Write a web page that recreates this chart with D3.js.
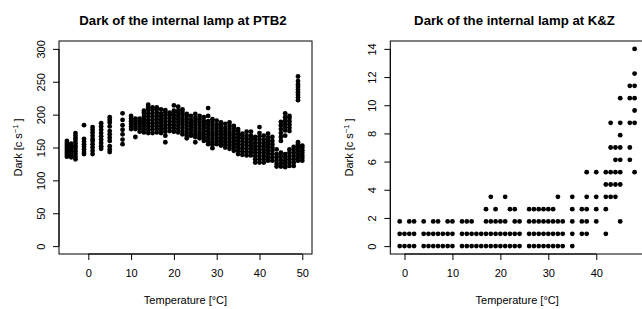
<!DOCTYPE html>
<html><head><meta charset="utf-8">
<script src="https://cdn.jsdelivr.net/npm/d3@7"></script>
<style>body{margin:0;background:#fff}svg{display:block}text{font-family:"Liberation Sans",Arial,sans-serif;fill:#000}</style>
</head><body><svg id="c" width="642" height="309"></svg>
<script>
// ---- Left panel: PTB2, temperature columns and dark values (c/s) ----
const ptbTemps = [-5,-4,-3,-1,1,3,5,8,10,11,12,13,14,15,16,17,18,19,20,21,22,23,24,25,26,27,28,29,30,31,32,33,34,35,36,37,38,39,40,41,42,43,44,45,46,47,48,49,50];
const ptbDark = [
 [136,139,142,145,148,151,154,157,160],
 [135,138,141,144,147,150,153,156],
 [132,136,140,144,148,152,156,160,164,168,172],
 [140,143,147,151,155,159,163,184],
 [140,145,150,155,160,163,168,173,177,181],
 [148,152,157,162,167,172,177,182,187],
 [143,147,152,160,165,170,175,182,188,192,196],
 [155,162,170,177,184,192,202],
 [178,182,186,190,194,198],
 [166,178,182,186,190,194],
 [174,178,182,186,190,194],
 [173,178,183,188,193,198,203,206],
 [172,177,182,187,192,197,202,207,211,215],
 [172,177,182,187,192,197,202,207,211],
 [173,178,183,188,193,198,203,208,211],
 [172,177,182,187,192,197,202,208],
 [158,168,174,179,184,189,194,199,204,207],
 [175,180,185,190,195,200,203],
 [174,179,184,189,194,199,204,206,214],
 [173,178,183,188,193,198,203,206,212],
 [170,175,180,185,190,195,200,204,208],
 [164,168,173,178,183,188,193,198,201],
 [168,172,177,182,187,192,198],
 [158,166,170,175,180,185,190,195,201],
 [164,168,173,178,183,188,193,198],
 [160,165,170,175,180,185,190,196],
 [155,160,165,170,175,180,185,190,198,210],
 [149,154,158,163,168,173,178,183,188,193],
 [155,160,165,170,175,180,185,191],
 [153,158,163,168,173,178,183,188],
 [150,155,160,165,170,175,180,186],
 [148,153,158,163,168,173,178,183,188],
 [145,150,155,160,165,170,175,180,183],
 [140,145,150,155,160,165,170,175,178],
 [139,144,149,154,159,164,168,171],
 [138,143,148,153,158,163,168,174],
 [138,143,148,153,158,163,168,174],
 [127,132,137,142,147,152,157,162,166],
 [127,132,137,142,147,152,157,162,167,172,181],
 [127,132,137,142,147,152,157,162,168],
 [130,135,140,145,150,155,160,165,171],
 [130,135,140,145,150,155,160,166],
 [121,125,130,135,140,147],
 [121,126,131,137,142,160,166,172,178,184,189],
 [120,125,130,135,140,168,176,181,186,191,196,202],
 [122,127,132,137,142,147,175,180,185,190,195,198],
 [122,127,132,137,142,147,151],
 [130,135,140,145,150,155,158,222,226,230,234,238,242,246,251,258],
 [130,134,138,142,146,150,153]
];
const ptbXTicks = [0,10,20,30,40,50];
const ptbYTicks = [0,50,100,150,200,250,300];

// ---- Right panel: K&Z, dark levels (multiples of 0.875 c/s) and temperatures at each level ----
const kzLevels = [0,0.875,1.75,2.625,3.5,4.375,5.25,6.125,7,7.875,8.75,9.625,10.5,11.375,12.25,14];
const kzTemps = [
 [-1,0,1,2,4,5,6,7,8,9,10,12,13,14,15,16,17,18,19,20,21,22,23,24,26,27,28,29,30,31,32,33,35],
 [-1,0,1,2,4,5,6,7,8,9,10,12,13,14,15,16,17,18,19,20,21,22,23,24,26,27,28,29,30,31,32,33,35,37,38,42],
 [-1,1,2,4,6,7,9,10,12,13,14,17,18,19,20,21,23,24,26,27,28,29,30,31,32,33,35,37,38,40,45],
 [17,19,22,23,26,27,28,29,30,31,35,37,38,40,42],
 [18,21,32,35,38,40,42,43,44],
 [42,43,44,45],
 [38,40,42,43,44,45,48],
 [44,45,47],
 [43,44,45,47],
 [45],
 [43,45,47,48],
 [48],
 [45,47,48],
 [47,48],
 [48],
 [48]
];
const kzXTicks = [0,10,20,30,40];
const kzYTicks = [0,2,4,6,8,10,12,14];

const svg = d3.select("#c");
const R = 2.4;

function panel(opt){
  const g = svg.append("g");
  const x = d3.scaleLinear().domain(opt.xd).range([opt.left, opt.right]);
  const y = d3.scaleLinear().domain(opt.yd).range([254, 41]);
  // points
  g.append("g").selectAll("circle").data(opt.pts).join("circle")
    .attr("cx", d => x(d[0])).attr("cy", d => y(d[1])).attr("r", R).attr("fill", "#000");
  // box
  g.append("rect").attr("x", opt.left).attr("y", 41).attr("width", opt.right-opt.left).attr("height", 213)
    .attr("fill","none").attr("stroke","#000").attr("stroke-width",1);
  // x axis
  const xa = g.append("g").attr("transform","translate(0,254)")
    .call(d3.axisBottom(x).tickValues(opt.xt).tickSize(6).tickPadding(9).tickSizeOuter(0));
  xa.select(".domain").attr("d", `M${x(opt.xt[0])},0H${x(opt.xt[opt.xt.length-1])}`);
  xa.selectAll("text").attr("font-size", 11).attr("font-family",null);
  // y axis
  const ya = g.append("g").attr("transform",`translate(${opt.left},0)`)
    .call(d3.axisLeft(y).tickValues(opt.yt).tickSize(6).tickPadding(0).tickSizeOuter(0));
  ya.select(".domain").attr("d", `M0,${y(opt.yt[0])}V${y(opt.yt[opt.yt.length-1])}`);
  ya.selectAll(".tick text").attr("x",null).attr("dy",null)
    .attr("transform","translate(-18,0) rotate(-90)").attr("text-anchor","middle").attr("dy","0.35em")
    .attr("font-size",11).attr("font-family",null);
  xa.selectAll(".tick line, .domain").attr("stroke","#000");
  ya.selectAll(".tick line, .domain").attr("stroke","#000");
  // titles
  g.append("text").attr("x", opt.tx).attr("y", 25).attr("text-anchor","middle")
    .attr("font-size",13.2).attr("font-weight","bold").text(opt.title);
  g.append("text").attr("x", (opt.left+opt.right)/2).attr("y", 304).attr("text-anchor","middle")
    .attr("font-size",11).text("Temperature [°C]");
  const yl = g.append("text").attr("transform",`translate(${opt.left-37},147.5) rotate(-90)`)
    .attr("text-anchor","middle").attr("font-size",11);
  yl.append("tspan").text("Dark [c s");
  yl.append("tspan").attr("font-size",7.5).attr("dy",-4).text("−1");
  yl.append("tspan").attr("dy",4).text(" ]");
}

const ptbPts = ptbTemps.flatMap((t,i) => ptbDark[i].map(v => [t,v]));
const kzPts = kzLevels.flatMap((lv,i) => kzTemps[i].map(t => [t,lv]));

panel({pts:ptbPts, xd:[-6.85,52.27], yd:[-12,312], left:59, right:312, xt:ptbXTicks, yt:ptbYTicks,
  title:"Dark of the internal lamp at PTB2", tx:183});
panel({pts:kzPts, xd:[-2.96,49.96], yd:[-0.56,14.56], left:390.3, right:644, xt:kzXTicks, yt:kzYTicks,
  title:"Dark of the internal lamp at K&Z", tx:514.5});
</script></body></html>
